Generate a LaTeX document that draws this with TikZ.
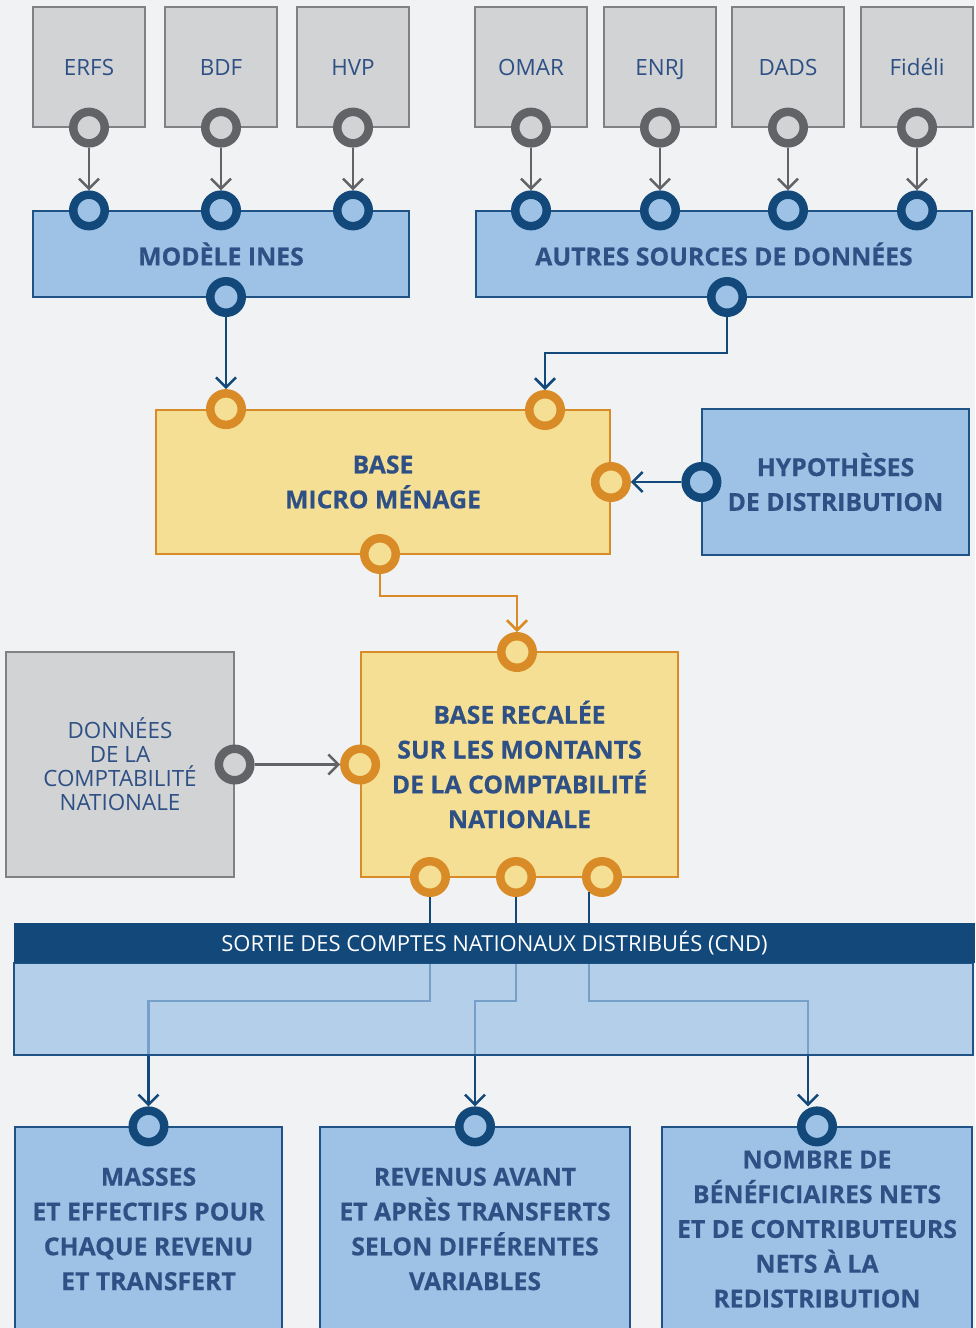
\documentclass[tikz,border=0pt]{standalone}
\usepackage{fontspec}
\setmainfont{Open Sans}[BoldFeatures={FakeBold=0.4}]
\usetikzlibrary{arrows.meta,positioning,calc}
\definecolor{bgGray}{HTML}{F1F2F4}
\definecolor{srcGray}{HTML}{D1D3D4}
\definecolor{srcEdge}{HTML}{808184}
\definecolor{ringGray}{HTML}{626366}
\definecolor{insBlue}{HTML}{9DC2E5}
\definecolor{insEdge}{HTML}{1F5385}
\definecolor{darkBlue}{HTML}{12487A}
\definecolor{baseYel}{HTML}{F5DF95}
\definecolor{baseOra}{HTML}{D98B27}
\definecolor{txtBlue}{HTML}{2E5084}
\tikzset{
  srcbox/.style={rectangle, draw=srcEdge, line width=0.6pt, fill=srcGray, align=center, minimum width=56pt, minimum height=60pt, text=txtBlue, font=\fontsize{11.2}{12}\selectfont},
  topsrc/.style={srcbox, text height=11pt, text depth=3pt},
  bluebox/.style={rectangle, draw=insEdge, line width=0.6pt, fill=insBlue, align=center, text=txtBlue, font=\fontsize{12.4}{17.4}\selectfont\bfseries},
  yelbox/.style={rectangle, draw=baseOra, line width=0.9pt, fill=baseYel, align=center, text=txtBlue, font=\fontsize{12.4}{17.4}\selectfont\bfseries},
  ring/.style={circle, inner sep=0pt, minimum size=15.75pt, line width=4.25pt},
  gring/.style={ring, draw=ringGray, fill=srcGray},
  bring/.style={ring, draw=darkBlue, fill=insBlue},
  oring/.style={ring, draw=baseOra, fill=baseYel},
  garrow/.style={-{Straight Barb[length=5pt,width=10pt]}, line width=1.25pt, draw=ringGray},
  barrow/.style={-{Straight Barb[length=5pt,width=10pt]}, line width=1.25pt, draw=darkBlue},
  oarrow/.style={-{Straight Barb[length=5pt,width=10pt]}, line width=1.25pt, draw=baseOra}
}
\begin{document}
\begin{tikzpicture}[x=0.5pt,y=-0.5pt]
  \useasboundingbox[fill=bgGray] (0,0) rectangle (975,1328);

  % sources
  \node[topsrc] (erfs) at (89,67) {ERFS};
  \node[topsrc] (bdf) at (221,67) {BDF};
  \node[topsrc] (hvp) at (353,67) {HVP};
  \node[topsrc] (omar) at (531,67) {OMAR};
  \node[topsrc] (enrj) at (660,67) {ENRJ};
  \node[topsrc] (dads) at (788,67) {DADS};
  \node[topsrc] (fideli) at (917,67) {Fidéli};

  \node[bluebox, minimum width=188pt, minimum height=43pt] (ines) at (221,254) {MODÈLE INES};
  \node[bluebox, minimum width=248pt, minimum height=43pt] (autres) at (724,254) {AUTRES SOURCES DE DONNÉES};

  \foreach \s in {erfs,bdf,hvp} {
    \node[gring] (\s-out) at (\s.south) {};
    \node[bring] (\s-in) at (\s.south |- ines.north) {};
    \draw[garrow] (\s-out) -- (\s-in);
  }
  \foreach \s in {omar,enrj,dads,fideli} {
    \node[gring] (\s-out) at (\s.south) {};
    \node[bring] (\s-in) at (\s.south |- autres.north) {};
    \draw[garrow] (\s-out) -- (\s-in);
  }
  \node[bring] (ines-out) at (226,297) {};
  \node[bring] (autres-out) at (727,297) {};

  % base micro
  \node[yelbox, minimum width=227pt, minimum height=72pt] (base) at (383,482) {BASE\\MICRO MÉNAGE};
  \node[bluebox, minimum width=133.5pt, minimum height=73pt] (hypo) at (835.5,482) {HYPOTHÈSES\\DE DISTRIBUTION};
  \node[oring] (base-in1) at (ines-out |- base.north) {};
  \node[oring] (base-in2) at (545,410) {};
  \node[oring] (base-in3) at (base.east) {};
  \node[oring] (base-out) at (380,554) {};
  \node[bring] (hypo-out) at (hypo.west) {};

  \coordinate (bend1) at (545,353);
  \draw[barrow] (ines-out) -- (base-in1);
  \draw[barrow] (autres-out) |- (bend1) -- (base-in2);
  \draw[barrow] (hypo-out) -- (base-in3);

  % base recalee
  \node[yelbox, minimum width=158.5pt, minimum height=112.5pt] (recal) at (519.5,764.5) {BASE RECALÉE\\SUR LES MONTANTS\\DE LA COMPTABILITÉ\\NATIONALE};
  \node[srcbox, minimum width=114pt, minimum height=112.5pt] (cn) at (120,764.5) {DONNÉES\\DE LA\\COMPTABILITÉ\\NATIONALE};
  \node[oring] (recal-in1) at (517,652) {};
  \node[oring] (recal-in2) at (recal.west) {};
  \node[gring] (cn-out) at (cn.east) {};
  \node[oring] (recal-out1) at (430,877) {};
  \node[oring] (recal-out2) at (516,877) {};
  \node[oring] (recal-out3) at (602,877) {};

  \coordinate (bend2) at (380,596);
  \draw[oarrow] (base-out) -- (bend2) -| (recal-in1);
  \draw[garrow] (cn-out) -- (recal-in2);

  % results
  \node[bluebox, minimum width=133.5pt, minimum height=102pt] (masses) at (148.5,1229) {MASSES\\ET EFFECTIFS POUR\\CHAQUE REVENU\\ET TRANSFERT};
  \node[bluebox, minimum width=155pt, minimum height=102pt] (revenus) at (475,1229) {REVENUS AVANT\\ET APRÈS TRANSFERTS\\SELON DIFFÉRENTES\\VARIABLES};
  \node[bluebox, minimum width=155pt, minimum height=102pt] (nombre) at (817,1229) {NOMBRE DE\\BÉNÉFICIAIRES NETS\\ET DE CONTRIBUTEURS\\NETS À LA\\REDISTRIBUTION};
  \node[bring] (masses-in) at (masses.north) {};
  \node[bring] (revenus-in) at (revenus.north) {};
  \node[bring] (nombre-in) at (nombre.north) {};

  \draw[barrow] (recal-out1) -- (recal-out1 |- 0,1001) -| (masses-in);
  \draw[barrow] (recal-out2) -- (recal-out2 |- 0,1001) -| (revenus-in);
  \draw[barrow] ([xshift=-6.5pt,yshift=2.5pt]recal-out3.south) |- (808,1001) -- (nombre-in.north -| 808,0);

  % CND band
  \node[rectangle, draw=insEdge, line width=0.6pt, fill=insBlue, fill opacity=0.72, minimum width=479.5pt, minimum height=46pt] (cnd-area) at (493.5,1009) {};
  \node[rectangle, fill=darkBlue, minimum width=480.5pt, minimum height=20pt, text=white, font=\fontsize{11}{12}\selectfont] (cnd) at (494.5,943) {SORTIE DES COMPTES NATIONAUX DISTRIBUÉS (CND)};
\end{tikzpicture}
\end{document}
